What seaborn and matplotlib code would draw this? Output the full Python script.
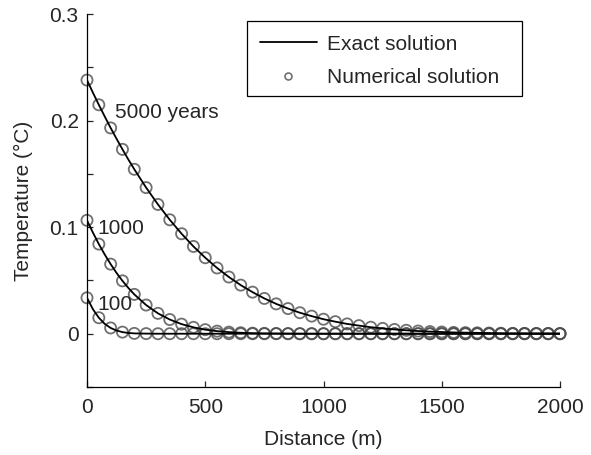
import numpy as np
import pandas as pd
import matplotlib
matplotlib.use("Agg")
import matplotlib.pyplot as plt
from matplotlib.lines import Line2D
from matplotlib.patches import Rectangle
from matplotlib.ticker import MultipleLocator
import seaborn as sns

# ---- data ----
distance_num = list(range(0, 2001, 50))
num_5000 = [0.238, 0.2148, 0.1931, 0.1730, 0.1543, 0.1371, 0.1213, 0.1069, 0.0938, 0.0819,
            0.0713, 0.0617, 0.0532, 0.0456, 0.0390, 0.0331, 0.0280, 0.0236, 0.0197, 0.0165,
            0.0136, 0.0113, 0.0092, 0.0076, 0.0061, 0.0050, 0.0040, 0.0032, 0.0025, 0.0020,
            0.0016, 0.0012, 0.0010, 0.0008, 0.0006, 0.0004, 0.0003, 0.0003, 0.0002, 0.0002, 0.0001]
num_1000 = [0.1064, 0.0841, 0.0653, 0.0496, 0.0369, 0.0269, 0.0191, 0.0133, 0.0090, 0.0060,
            0.0038, 0.0024, 0.0015, 0.0009, 0.0005, 0.0003, 0.0002, 0.0001, 0.0, 0.0,
            0.0, 0.0, 0.0, 0.0, 0.0, 0.0, 0.0, 0.0, 0.0, 0.0,
            0.0, 0.0, 0.0, 0.0, 0.0, 0.0, 0.0, 0.0, 0.0, 0.0, 0.0]
num_100 = [0.0337, 0.0150, 0.0054, 0.0015, 0.0003, 0.0001, 0.0, 0.0, 0.0, 0.0,
           0.0, 0.0, 0.0, 0.0, 0.0, 0.0, 0.0, 0.0, 0.0, 0.0,
           0.0, 0.0, 0.0, 0.0, 0.0, 0.0, 0.0, 0.0, 0.0, 0.0,
           0.0, 0.0, 0.0, 0.0, 0.0, 0.0, 0.0, 0.0, 0.0, 0.0, 0.0]

distance_exact = [0, 25, 50, 75, 100, 125, 150, 175, 200] + list(range(250, 2001, 50))
exact_5000 = [0.238, 0.2262, 0.2148, 0.2038, 0.1931, 0.1829, 0.1730, 0.1634, 0.1543,
              0.1371, 0.1213, 0.1069, 0.0938, 0.0819,
              0.0713, 0.0617, 0.0532, 0.0456, 0.0390, 0.0331, 0.0280, 0.0236, 0.0197, 0.0165,
              0.0136, 0.0113, 0.0092, 0.0076, 0.0061, 0.0050, 0.0040, 0.0032, 0.0025, 0.0020,
              0.0016, 0.0012, 0.0010, 0.0008, 0.0006, 0.0004, 0.0003, 0.0003, 0.0002, 0.0002, 0.0001]
exact_1000 = [0.1064, 0.0949, 0.0841, 0.0743, 0.0653, 0.0570, 0.0496, 0.0429, 0.0369,
              0.0269, 0.0191, 0.0133, 0.0090, 0.0060,
              0.0038, 0.0024, 0.0015, 0.0009, 0.0005, 0.0003, 0.0002, 0.0001, 0.0, 0.0,
              0.0, 0.0, 0.0, 0.0, 0.0, 0.0, 0.0, 0.0, 0.0, 0.0,
              0.0, 0.0, 0.0, 0.0, 0.0, 0.0, 0.0, 0.0, 0.0, 0.0, 0.0]
exact_100 = [0.0337, 0.0230, 0.0150, 0.0092, 0.0054, 0.0030, 0.0015, 0.0007, 0.0003,
             0.0001, 0.0, 0.0, 0.0, 0.0,
             0.0, 0.0, 0.0, 0.0, 0.0, 0.0, 0.0, 0.0, 0.0, 0.0,
             0.0, 0.0, 0.0, 0.0, 0.0, 0.0, 0.0, 0.0, 0.0, 0.0,
             0.0, 0.0, 0.0, 0.0, 0.0, 0.0, 0.0, 0.0, 0.0, 0.0, 0.0]

curve_labels = ["5000 years", "1000", "100"]
x_ticks = [0, 500, 1000, 1500, 2000]
y_ticks = [0, 0.1, 0.2, 0.3]

# ---- tidy frames ----
df_exact = pd.concat([
    pd.DataFrame({"Distance": distance_exact, "T": exact_5000, "time": "5000"}),
    pd.DataFrame({"Distance": distance_exact, "T": exact_1000, "time": "1000"}),
    pd.DataFrame({"Distance": distance_exact, "T": exact_100, "time": "100"}),
])
df_num = pd.concat([
    pd.DataFrame({"Distance": distance_num, "T": num_5000, "time": "5000"}),
    pd.DataFrame({"Distance": distance_num, "T": num_1000, "time": "1000"}),
    pd.DataFrame({"Distance": distance_num, "T": num_100, "time": "100"}),
])

sns.set_style("ticks")
plt.rcParams["font.family"] = ["Liberation Sans", "DejaVu Sans"]
FS = 15
plt.rcParams["font.size"] = FS

W, H = 591, 455
fig = plt.figure(figsize=(W / 100, H / 100), dpi=100)
ax = fig.add_axes([87 / W, 1 - 387 / H, (560 - 87) / W, (387 - 14) / H])

marker_col = (0.30, 0.30, 0.30, 0.8)
sns.scatterplot(data=df_num, x="Distance", y="T", ax=ax, marker="o", s=64,
                facecolors="none", edgecolors=[marker_col], linewidths=1.3,
                legend=False, zorder=2, clip_on=False)
sns.lineplot(data=df_exact, x="Distance", y="T", units="time", estimator=None,
             color="black", linewidth=1.3, ax=ax, legend=False, zorder=3, sort=False)

ax.set_xlim(0, 2000)
ax.set_ylim(-0.05, 0.3)
ax.set_xticks(x_ticks)
ax.set_xticklabels([str(v) for v in x_ticks])
ax.set_yticks(y_ticks)
ax.set_yticklabels(["0", "0.1", "0.2", "0.3"])
ax.yaxis.set_minor_locator(MultipleLocator(0.05))
ax.tick_params(which="both", direction="in", length=4, width=0.9, labelsize=FS)
ax.tick_params(axis="y", pad=6)
ax.tick_params(axis="x", pad=8)
for s in ["top", "right"]:
    ax.spines[s].set_visible(False)
for s in ["left", "bottom"]:
    ax.spines[s].set_linewidth(0.9)
    ax.spines[s].set_color("black")

ax.set_xlabel("Distance (m)", fontsize=FS, labelpad=9)
ax.set_ylabel("Temperature (\u00b0C)", fontsize=FS, labelpad=12)

ax.text(118, 0.208, curve_labels[0], fontsize=FS, va="center", ha="left")
ax.text(42, 0.099, curve_labels[1], fontsize=FS, va="center", ha="left")
ax.text(42, 0.027, curve_labels[2], fontsize=FS, va="center", ha="left")

handles = [
    Line2D([], [], color="black", linewidth=1.3),
    Line2D([], [], linestyle="none", marker="o", markersize=5, markerfacecolor="none",
           markeredgecolor=marker_col, markeredgewidth=1.2),
]
leg = ax.legend(handles, ["Exact solution", "Numerical solution"], loc="upper left",
                bbox_to_anchor=(243 / W, 1 - 18 / H), bbox_transform=fig.transFigure,
                frameon=False, fontsize=FS, handlelength=2.75, handletextpad=0.5,
                borderpad=0.3, labelspacing=0.7)
fig.patches.append(Rectangle((247 / W, 1 - 96 / H), (522 - 247) / W, (96 - 21) / H,
                             transform=fig.transFigure, fill=False, edgecolor="black",
                             linewidth=0.9, figure=fig))

fig.savefig("out.png", dpi=100)
